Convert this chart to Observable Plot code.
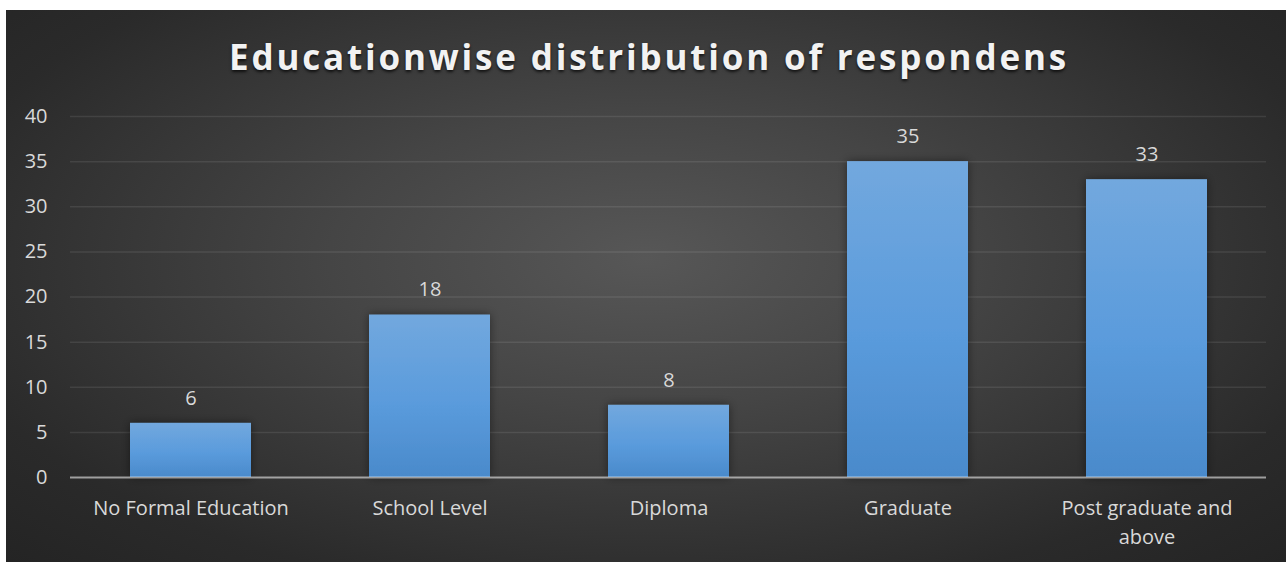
<!DOCTYPE html>
<html>
<head>
<meta charset="utf-8">
<script src="https://cdn.jsdelivr.net/npm/d3@7"></script>
<script src="https://cdn.jsdelivr.net/npm/@observablehq/plot@0.6"></script>
<style>
  html, body { margin: 0; padding: 0; background: #ffffff; }
  #chart {
    position: absolute; left: 6px; top: 10px; width: 1280px; height: 552px;
    background: radial-gradient(ellipse farthest-corner at 50% 45%, #575757 0%, #454545 35%, #2a2a2a 80%, #242424 100%);
    overflow: hidden;
  }
  #title {
    position: absolute; left: 3px; top: 27px; width: 1280px; text-align: center;
    font-family: "Open Sans", sans-serif; font-weight: 700; font-size: 35px;
    color: #f2f2f2; text-shadow: 0 2px 3px rgba(0,0,0,0.7); white-space: nowrap;
    line-height: 40px;
  }
  #plot { position: absolute; left: 0; top: 0; }
</style>
</head>
<body>
<div id="chart">
  <div id="title">Educationwise distribution of respondens</div>
  <div id="plot"></div>
</div>
<script>
const categories = ["No Formal Education", "School Level", "Diploma", "Graduate", "Post graduate and above"];
const values = [6, 18, 8, 35, 33];
const yTicks = [0, 5, 10, 15, 20, 25, 30, 35, 40];
const tickLabels = {"Post graduate and above": "Post graduate and\nabove"};

const data = categories.map((c, i) => ({category: c, value: values[i]}));

// fit title letter spacing to target width
const titleEl = document.getElementById("title");
const cv = document.createElement("canvas").getContext("2d");
cv.font = "700 35px 'Open Sans'";
const tw = cv.measureText(titleEl.textContent).width;
const ls = Math.max(0, (837 - tw) / (titleEl.textContent.length - 1));
titleEl.style.letterSpacing = ls + "px";

const labelColor = "#d9d9d9";
const font = "Open Sans, sans-serif";
const fs = 20;

const plot = Plot.plot({
  width: 1280,
  height: 552,
  marginLeft: 64,
  marginRight: 20,
  marginTop: 106,
  marginBottom: 85,
  style: {background: "transparent", fontFamily: font, fontSize: fs + "px", color: labelColor, overflow: "visible"},
  x: {domain: categories, paddingInner: 0.495, paddingOuter: 0.2475, label: null},
  y: {domain: [0, 40], ticks: yTicks, label: null},
  marks: [
    Plot.gridY(yTicks.filter(d => d > 0), {stroke: "#ffffff", strokeOpacity: 0.09, strokeWidth: 1.5}),
    Plot.barY(data, {x: "category", y: "value", fill: "url(#barGrad)", className: "bars"}),
    Plot.ruleY([0], {stroke: "#ffffff", strokeOpacity: 0.55, strokeWidth: 2}),
    Plot.axisY({ticks: yTicks, tickSize: 0, tickPadding: 23, fontSize: fs, fill: labelColor, label: null}),
    Plot.axisX({tickSize: 0, tickPadding: 17, fontSize: fs, fill: labelColor, lineHeight: 1.45,
      tickFormat: d => tickLabels[d] || d, label: null}),
    Plot.text(data, {x: "category", y: "value", text: d => String(d.value), dy: -25, fontSize: fs, fill: labelColor})
  ]
});

// gradient + shadow defs
const svg = d3.select(plot);
const defs = svg.insert("defs", ":first-child");
const g = defs.append("linearGradient").attr("id", "barGrad").attr("x1", 0).attr("y1", 0).attr("x2", 0).attr("y2", 1);
g.append("stop").attr("offset", "0%").attr("stop-color", "#72a8de");
g.append("stop").attr("offset", "55%").attr("stop-color", "#5a9bdc");
g.append("stop").attr("offset", "100%").attr("stop-color", "#4a8acb");
const f = defs.append("filter").attr("id", "barShadow").attr("x", "-20%").attr("y", "-20%").attr("width", "140%").attr("height", "140%");
f.append("feDropShadow").attr("dx", 0).attr("dy", 0).attr("stdDeviation", 5).attr("flood-color", "#000").attr("flood-opacity", 0.45);
svg.selectAll("g.bars").attr("filter", "url(#barShadow)");

document.getElementById("plot").appendChild(plot);
</script>
</body>
</html>
